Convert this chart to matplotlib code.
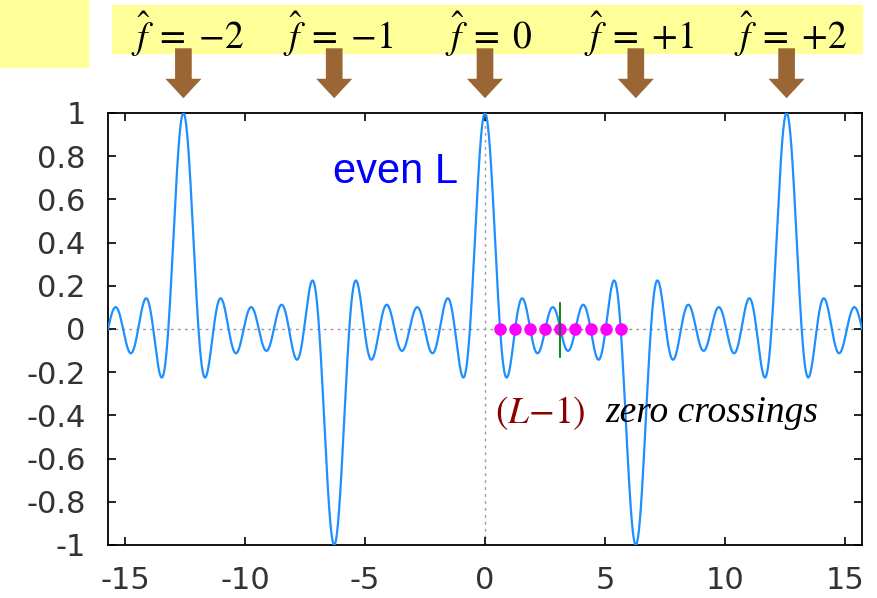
import numpy as np
import matplotlib
matplotlib.use("Agg")
import matplotlib.pyplot as plt

# ---- data ----
L = 10                              # even L (9 = L-1 zero crossings marked)
x_min, x_max = -5 * np.pi, 5 * np.pi
peak_labels = [r"$\hat{f}\;=\;{-}2$", r"$\hat{f}\;=\;{-}1$", r"$\hat{f}\;=\;0$",
               r"$\hat{f}\;=\;{+}1$", r"$\hat{f}\;=\;{+}2$"]
peak_index = [-2, -1, 0, 1, 2]
yticks = [-1, -0.8, -0.6, -0.4, -0.2, 0, 0.2, 0.4, 0.6, 0.8, 1]
ytick_labels = ["-1", "-0.8", "-0.6", "-0.4", "-0.2", "0", "0.2", "0.4", "0.6", "0.8", "1"]
xticks = [-15, -10, -5, 0, 5, 10, 15]
xtick_labels = ["-15", "-10", "-5", "0", "5", "10", "15"]

x = np.linspace(x_min, x_max, 4000)
with np.errstate(divide="ignore", invalid="ignore"):
    y = np.sin(L * x / 2) / (L * np.sin(x / 2))
near = np.isclose(np.sin(x / 2), 0, atol=1e-12)
y[near] = np.cos(L * x[near] / 2) / np.cos(x[near] / 2)
zeros = 2 * np.pi * np.arange(1, L) / L

plt.rcParams["mathtext.fontset"] = "stix"
fig = plt.figure(figsize=(8.78, 5.98), dpi=100)
ax = fig.add_axes([108 / 878, 1 - 545 / 598, (862 - 108) / 878, (545 - 113) / 598])

ax.plot(x, y, color="#1e8fff", lw=1.6, zorder=3)
ax.axhline(0, color="#999999", ls=(0, (2, 3)), lw=1.0, zorder=1)
ax.axvline(0, color="#999999", ls=(0, (2, 3)), lw=1.0, zorder=1)
ax.plot(zeros, np.zeros_like(zeros), "o", color="#ff00ff", ms=8, zorder=4)
ax.plot([np.pi, np.pi], [0.12, -0.13], color="#008000", lw=1.3, zorder=5)

ax.set_xlim(x_min, x_max)
ax.set_ylim(-1, 1)
ax.set_xticks(xticks)
ax.set_xticklabels(xtick_labels)
ax.set_yticks(yticks)
ax.set_yticklabels(ytick_labels)
ax.tick_params(direction="in", top=True, right=True, length=6, width=1.2,
               labelsize=22, labelcolor="#333333")
ax.tick_params(axis="x", pad=15)
ax.tick_params(axis="y", pad=16)
for lab in ax.get_xticklabels() + ax.get_yticklabels():
    lab.set_family("DejaVu Sans")
for s in ax.spines.values():
    s.set_linewidth(1.3)

ax.text(-6.35, 0.727, "even L", color="#0000ff", fontsize=30,
        family="Liberation Sans", va="center", ha="left")
ax.text(0.4, -0.39, r"$(L{-}1)$", color="#8b0000", fontsize=27, va="center", ha="left")
ax.text(5.0, -0.39, "zero crossings", color="black", fontsize=27, style="italic",
        family="Liberation Serif", va="center", ha="left")

# yellow label bands
fig.patches.append(plt.Rectangle((0, 1 - 67 / 598), 88 / 878, 67 / 598,
                                 transform=fig.transFigure, color="#ffff99", zorder=-1))
fig.patches.append(plt.Rectangle((112 / 878, 1 - 53 / 598), (862 - 112) / 878, 48 / 598,
                                 transform=fig.transFigure, color="#ffff99", zorder=-1))

for k, lab in zip(peak_index, peak_labels):
    xp = 2 * np.pi * k
    ax.annotate(lab, xy=(xp + 0.15, 1 + (113 - 34) / 432), xycoords=("data", "axes fraction"),
                ha="center", va="center", fontsize=27, annotation_clip=False)
    ax.annotate("", xy=(xp, 1 + 12 / 432), xytext=(xp, 1 + 67.5 / 432),
                xycoords=("data", "axes fraction"), textcoords=("data", "axes fraction"),
                arrowprops=dict(arrowstyle="simple,head_length=0.7,head_width=1.3,tail_width=0.6",
                                color="#9a6633", lw=0, mutation_scale=20),
                annotation_clip=False)

fig.savefig("out.png", dpi=100)
